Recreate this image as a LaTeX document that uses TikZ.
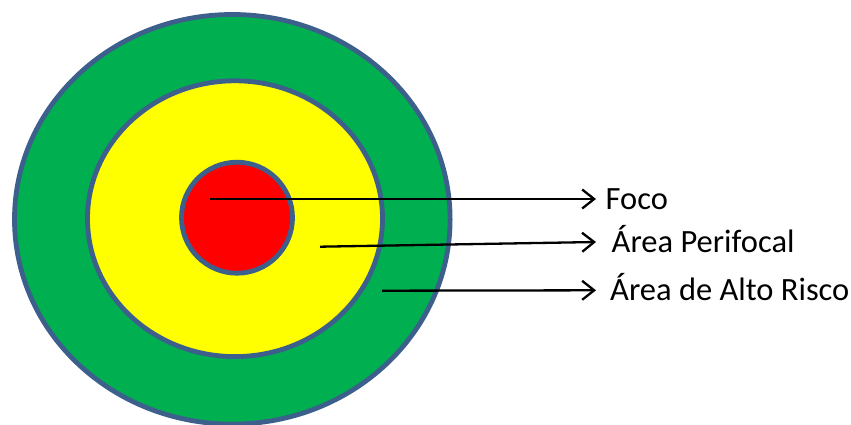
\documentclass[tikz,border=0pt]{standalone}
\usepackage{fontspec}
\setmainfont{Carlito}
\usepackage{tikz}
\usetikzlibrary{arrows.meta}
\definecolor{rim}{HTML}{3C5F8C}
\definecolor{riskgreen}{HTML}{00B050}
\definecolor{periyellow}{HTML}{FFFF00}
\definecolor{focored}{HTML}{FF0000}

\begin{document}
\begin{tikzpicture}[x=1pt,y=-1pt,
  zone/.style={draw=rim,line width=4.8pt},
  ptr/.style={-{Straight Barb[length=12pt,width=19pt]},line width=2.3pt},
  lbl/.style={anchor=west,inner sep=0pt,text height=21pt,text depth=0pt,
    font=\fontsize{32.5}{38}\selectfont}]
  \useasboundingbox (0,0) rectangle (851,425);
  % the three zones
  \draw[zone,fill=riskgreen] (232.3,219.3) ellipse (217.8 and 204.8);
  \draw[zone,fill=periyellow] (235,218.7) ellipse (147.5 and 137.9);
  \draw[zone,fill=focored] (237,217.7) circle (55.5);
  % labels
  \node[lbl,inner xsep=9.5pt] (foco) at (596,199) {Foco};
  \node[lbl,inner xsep=15.5pt] (peri) at (596,242) {Área Perifocal};
  \node[lbl,inner xsep=14pt] (alto) at (596,290.3) {Área de Alto Risco};
  % pointers
  \coordinate (inFoco) at (210,199);
  \coordinate (inPeri) at (320,246.7);
  \coordinate (inAlto) at (382,290.7);
  \draw[ptr] (inFoco) -- (foco.west);
  \draw[ptr] (inPeri) -- (peri.west);
  \draw[ptr] (inAlto) -- (alto.west);
\end{tikzpicture}
\end{document}
